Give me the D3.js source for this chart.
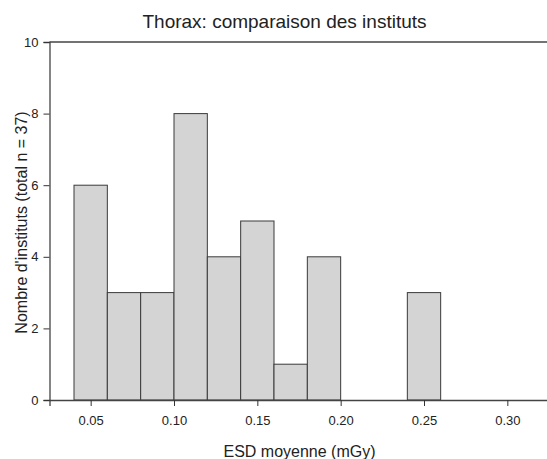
<!DOCTYPE html>
<html>
<head>
<meta charset="utf-8">
<script src="https://cdn.jsdelivr.net/npm/d3@7"></script>
<style>
  body { margin: 0; background: #fff; }
  text { font-family: "Liberation Sans", Arial, sans-serif; fill: #222; }
</style>
</head>
<body>
<script>
var width = 547,
    height = 459;

// histogram bins (lower edge, upper edge) and counts
var binStart = [0.04, 0.06, 0.08, 0.10, 0.12, 0.14, 0.16, 0.18, 0.20, 0.22, 0.24];
var binEnd   = [0.06, 0.08, 0.10, 0.12, 0.14, 0.16, 0.18, 0.20, 0.22, 0.24, 0.26];
var counts   = [6, 3, 3, 8, 4, 5, 1, 4, 0, 0, 3];

var xTicks = [0.05, 0.10, 0.15, 0.20, 0.25, 0.30];
var yTicks = [0, 2, 4, 6, 8, 10];

var x = d3.scaleLinear()
    .domain([0.0253, 0.325])
    .range([49.5, 549]);

var y = d3.scaleLinear()
    .domain([0, 10])
    .range([400, 42]);

var svg = d3.select("body").append("svg")
    .attr("width", width)
    .attr("height", height);

var bins = counts.map(function(c, i) { return { x0: binStart[i], x1: binEnd[i], n: c }; })
    .filter(function(d) { return d.n > 0; });

svg.selectAll("rect.bar")
    .data(bins)
    .enter().append("rect")
    .attr("class", "bar")
    .attr("x", function(d) { return x(d.x0); })
    .attr("y", function(d) { return y(d.n); })
    .attr("width", function(d) { return x(d.x1) - x(d.x0); })
    .attr("height", function(d) { return y(0) - y(d.n); })
    .attr("fill", "#d4d4d4")
    .attr("stroke", "#3a3a3a")
    .attr("stroke-width", 1);

// top frame line
svg.append("line")
    .attr("x1", x.range()[0]).attr("x2", width)
    .attr("y1", y(10)).attr("y2", y(10))
    .attr("stroke", "#444").attr("stroke-width", 1.3);

var xAxis = svg.append("g")
    .attr("transform", "translate(0," + y(0) + ")")
    .call(d3.axisBottom(x).tickValues(xTicks).tickFormat(d3.format(".2f")).tickSize(6).tickPadding(10));

var yAxis = svg.append("g")
    .attr("transform", "translate(" + x.range()[0] + ",0)")
    .call(d3.axisLeft(y).tickValues(yTicks).tickSize(6).tickPadding(5));

[xAxis, yAxis].forEach(function(a) {
    a.select(".domain").attr("stroke", "#444").attr("stroke-width", 1.3);
    a.selectAll(".tick line").attr("stroke", "#333");
    a.selectAll(".tick text")
        .style("font-family", "'Liberation Sans', Arial, sans-serif")
        .style("font-size", "13px")
        .attr("fill", "#222");
});

svg.append("text")
    .attr("x", 284.5).attr("y", 28)
    .attr("text-anchor", "middle")
    .style("font-size", "19px")
    .text("Thorax: comparaison des instituts");

svg.append("text")
    .attr("x", 299.5).attr("y", 457)
    .attr("text-anchor", "middle")
    .style("font-size", "16px")
    .text("ESD moyenne (mGy)");

svg.append("text")
    .attr("transform", "translate(27," + 222.5 + ") rotate(-90)")
    .attr("text-anchor", "middle")
    .style("font-size", "16px")
    .text("Nombre d'instituts (total n = 37)");
</script>
</body>
</html>
